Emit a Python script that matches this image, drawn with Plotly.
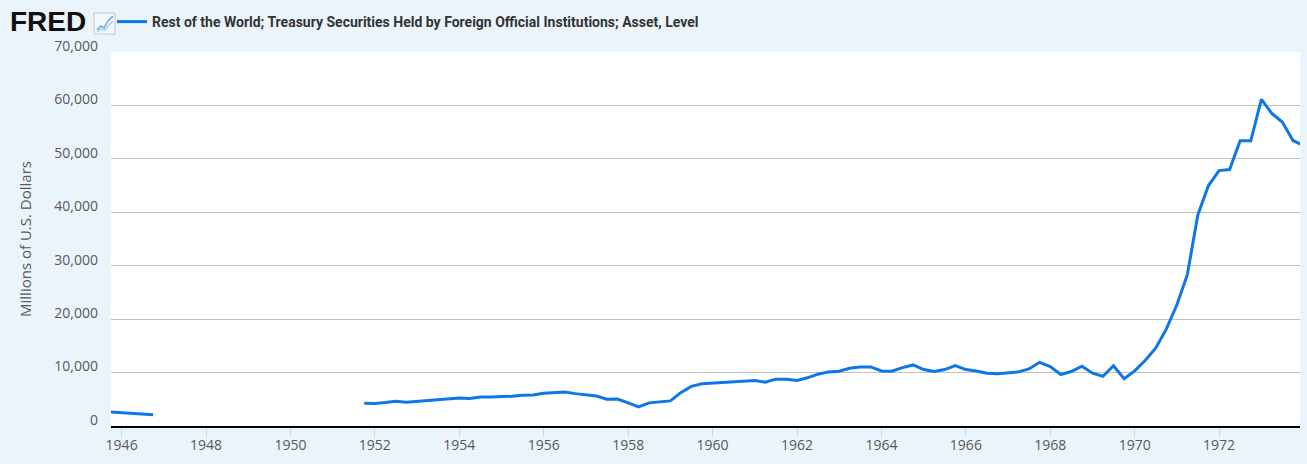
import plotly.graph_objects as go
import pandas as pd

# quarterly observations, 1945Q4 .. 1974Q1 (last one clipped by the axis range)
quarters = pd.date_range("1945-10-01", "1974-01-01", freq="QS")

early_vals = [2600, 2480, 2350, 2230, 2100]          # 1945Q4 - 1946Q4
gap_vals = [None] * 19                               # 1947Q1 - 1951Q3, no data
late_vals = [
    4270, 4200, 4390, 4640, 4450, 4630, 4820, 5000, 5070, 5250,
    5130, 5440, 5440, 5440, 5560, 5750, 5810, 6120, 6180, 6370,
    6060, 5870, 5620, 5020, 5060, 4330, 3590, 4330, 4450, 4700,
    6240, 7410, 7900, 8030, 8090, 8280, 8460, 8520, 8210, 8770,
    8770, 8520, 9020, 9700, 10130, 10250, 10810, 11030, 11050, 10310,
    10250, 10930, 11430, 10560, 10190, 10560, 11300, 10560, 10310, 9880,
    9760, 10000, 10130, 10680, 11920, 11120, 9640, 10190, 11180, 9880,
    9300, 11280, 8850, 10310, 12250, 14560, 18130, 22690, 28310, 39500,
    45000, 47810, 48000, 53380, 53380, 61130, 58500, 56880, 53440, 52500,
]
values = early_vals + gap_vals + late_vals

series_name = ("Rest of the World; Treasury Securities Held by Foreign "
               "Official Institutions; Asset, Level")
y_title = "Millions of U.S. Dollars"

W, H = 1307, 464
ML, MR, MT, MB = 111, 7, 52, 38
BG = "#ebf3fb"
BLUE = "#0f77e4"


def px(x):
    return (x - ML) / (W - ML - MR)


def py(y):
    return (H - MB - y) / (H - MT - MB)


fig = go.Figure(go.Scatter(
    x=quarters, y=values, mode="lines", name=series_name,
    line=dict(color=BLUE, width=3), connectgaps=False,
))

# little FRED logo
icon = [(97, 30), (101, 26), (104, 28), (108, 21), (113, 16)]
icon2 = [(97, 32), (101, 29), (105, 30), (109, 25), (113, 21)]


def path(pts):
    return "M " + " L ".join(f"{px(a):.5f},{py(b):.5f}" for a, b in pts)


fig.update_layout(
    width=W, height=H,
    margin=dict(l=ML, r=MR, t=MT, b=MB, autoexpand=False),
    paper_bgcolor=BG, plot_bgcolor="white",
    font=dict(family="Open Sans, sans-serif", size=14, color="#595959"),
    showlegend=True,
    legend=dict(
        orientation="h", xref="container", yref="container",
        x=112 / W, y=1 - 22 / H, xanchor="left", yanchor="middle",
        bgcolor="rgba(0,0,0,0)", borderwidth=0,
        font=dict(family="Liberation Sans Narrow, Roboto, sans-serif",
                  size=14, color="#333333", weight="bold"),
    ),
    xaxis=dict(
        type="date", range=["1945-10-01", "1973-12-01"],
        dtick="M24", tick0="1946-01-01", tickformat="%Y",
        showgrid=False, showline=True, linecolor="black", linewidth=2,
        ticks="outside", ticklen=9, tickcolor="#ccd6eb", tickwidth=1,
        ticklabelstandoff=-4, zeroline=False,
    ),
    yaxis=dict(
        range=[0, 70000], dtick=10000, tickformat=",",
        showgrid=True, gridcolor="#c0c0c0", gridwidth=1,
        zeroline=False, ticklabelshift=-6,
        ticklabelstandoff=12,
        title=dict(text=y_title, font=dict(size=15, color="#595959"),
                   standoff=19),
    ),
    annotations=[dict(
        text="<b>FRED</b>", xref="paper", yref="paper",
        x=px(8), y=py(22), xanchor="left", yanchor="middle",
        showarrow=False,
        font=dict(family="Liberation Sans, Arial, sans-serif",
                  size=28, color="#111111"),
    )],
    shapes=[
        dict(type="rect", xref="paper", yref="paper",
             x0=px(94), x1=px(115), y0=py(34), y1=py(13),
             fillcolor="#f4f7fb", line=dict(color="#c8c8c8", width=1)),
        dict(type="path", xref="paper", yref="paper", path=path(icon),
             line=dict(color="#6aa6dc", width=1.5)),
        dict(type="path", xref="paper", yref="paper", path=path(icon2),
             line=dict(color="#a9cdee", width=1.5)),
    ],
)

# drop the page's default body margin so the figure sits at the top-left corner
fig.write_html("out.html", config={"displayModeBar": False},
               post_script="document.body.style.margin='0';")
